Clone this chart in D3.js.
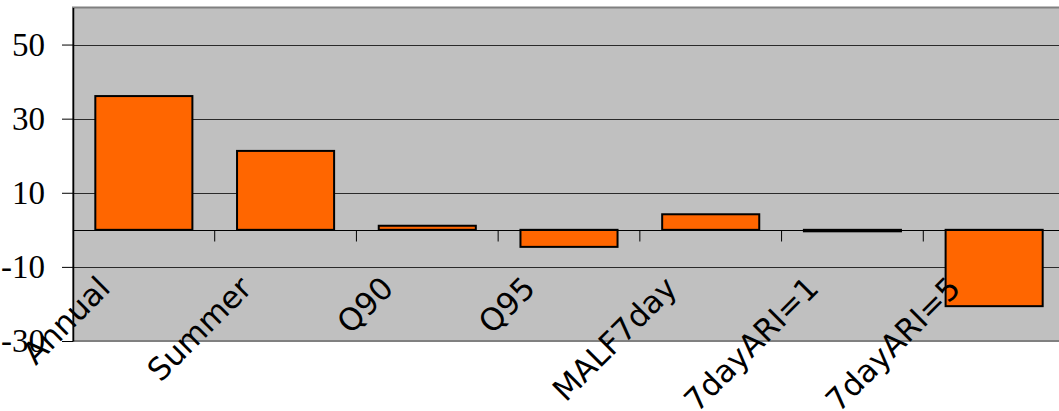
<!DOCTYPE html>
<html>
<head>
<meta charset="utf-8">
<script src="https://cdn.jsdelivr.net/npm/d3@7"></script>
<style>
  html, body { margin: 0; padding: 0; background: #ffffff; }
  svg { display: block; }
</style>
</head>
<body>
<svg id="chart" width="1059" height="411"></svg>
<script>
// Percentage change per flow statistic
const categories = ["Annual", "Summer", "Q90", "Q95", "MALF7day", "7dayARI=1", "7dayARI=5"];
const values = [36.1, 21.3, 1.1, -4.6, 4.2, -0.4, -20.6];
const yTickValues = [-30, -10, 10, 30, 50];
const gridValues = [-10, 10, 30, 50];

const svg = d3.select("#chart");

const plot = { left: 73, right: 1065, top: 7.5, bottom: 341 };

const x = d3.scaleBand()
  .domain(categories)
  .range([plot.left, plot.right])
  .paddingInner(0.315)
  .paddingOuter(0.1575);

const y = d3.scaleLinear()
  .domain([-30, 60])
  .range([plot.bottom, plot.top]);

// plot area background
svg.append("rect")
  .attr("x", plot.left)
  .attr("y", plot.top)
  .attr("width", plot.right - plot.left)
  .attr("height", plot.bottom - plot.top)
  .attr("fill", "#c0c0c0")
  .attr("stroke", "#808080")
  .attr("stroke-width", 2);

// horizontal gridlines
svg.append("g")
  .selectAll("line")
  .data(gridValues)
  .join("line")
  .attr("x1", plot.left)
  .attr("x2", plot.right)
  .attr("y1", d => Math.round(y(d)) + 0.5)
  .attr("y2", d => Math.round(y(d)) + 0.5)
  .attr("stroke", "#2a2a2a")
  .attr("stroke-width", 1);

// value axis
const yAxis = svg.append("g")
  .attr("transform", `translate(${plot.left},0)`)
  .call(d3.axisLeft(y)
    .tickValues(yTickValues)
    .tickSize(11)
    .tickSizeOuter(0)
    .tickPadding(17)
    .tickFormat(d3.format("d")));
yAxis.select(".domain").attr("stroke", "#000").attr("stroke-width", 1.5);
yAxis.selectAll(".tick line").attr("stroke", "#000");
yAxis.selectAll(".tick text")
  .attr("font-family", "'Liberation Serif', 'Times New Roman', serif")
  .attr("font-size", 33)
  .attr("fill", "#000")
  .text(d => d < 0 ? "-" + Math.abs(d) : String(d));

// bars
svg.append("g")
  .selectAll("rect")
  .data(categories.map((c, i) => ({ c, v: values[i] })))
  .join("rect")
  .attr("x", d => x(d.c))
  .attr("width", x.bandwidth())
  .attr("y", d => y(Math.max(0, d.v)))
  .attr("height", d => Math.abs(y(d.v) - y(0)))
  .attr("fill", "#ff6600")
  .attr("stroke", "#000")
  .attr("stroke-width", 2);

// category axis at zero
const y0 = Math.round(y(0)) + 0.5;
const xAxis = svg.append("g");
xAxis.append("line")
  .attr("x1", plot.left).attr("x2", plot.right)
  .attr("y1", y0).attr("y2", y0)
  .attr("stroke", "#000").attr("stroke-width", 1);
xAxis.selectAll("line.tick")
  .data(d3.range(1, categories.length + 1))
  .join("line")
  .attr("class", "tick")
  .attr("x1", i => plot.left + i * x.step())
  .attr("x2", i => plot.left + i * x.step())
  .attr("y1", y0)
  .attr("y2", y0 + 11)
  .attr("stroke", "#000");

// rotated category labels
svg.append("g")
  .selectAll("text")
  .data(categories)
  .join("text")
  .attr("transform", d => `translate(${x(d) + x.bandwidth() / 2 - 32},290) rotate(-45)`)
  .attr("text-anchor", "end")
  .attr("font-family", "'DejaVu Sans', Verdana, sans-serif")
  .attr("font-size", 31)
  .attr("fill", "#000")
  .text(d => d);
</script>
</body>
</html>
